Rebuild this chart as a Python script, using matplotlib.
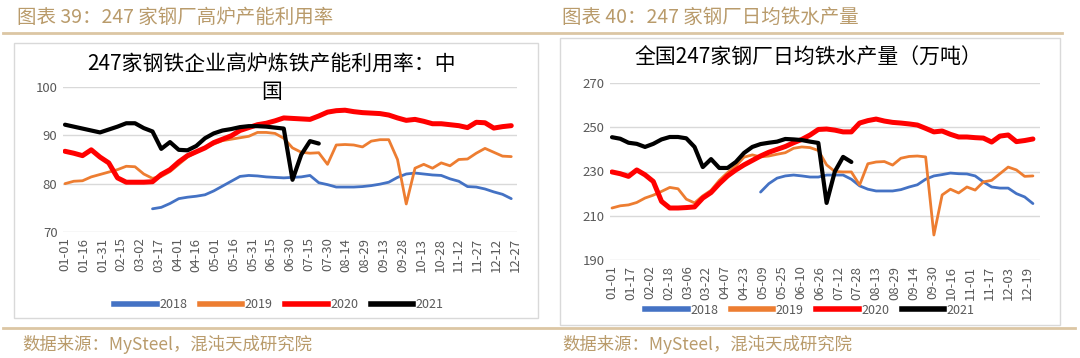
import matplotlib
matplotlib.use('Agg')
import numpy as np
import matplotlib.pyplot as plt
from matplotlib.patches import Rectangle
from matplotlib.lines import Line2D

plt.rcParams['font.family'] = ['Noto Sans CJK SC', 'DejaVu Sans']

# ---- data (weekly readings, week index k -> day 7k of the year) ----
years = ['2018', '2019', '2020', '2021']
colors = ['#4472C4', '#ED7D31', '#FF0000', '#000000']
widths = [2.0, 2.0, 3.6, 3.0]

# chart 39: blast furnace capacity utilisation (%)
util_start = [10, 0, 0, 0]
util_2018 = [74.8, 75.1, 75.9, 76.9, 77.2, 77.4, 77.7, 78.5, 79.5, 80.5,
             81.5, 81.7, 81.6, 81.4, 81.3, 81.2, 81.3, 81.4, 81.7, 80.2,
             79.8, 79.3, 79.3, 79.3, 79.4, 79.6, 79.9, 80.3, 81.3, 82.0,
             82.2, 82.0, 81.8, 81.7, 81.0, 80.5, 79.4, 79.3, 78.9, 78.3,
             77.8, 76.9]
util_2019 = [80.0, 80.5, 80.6, 81.4, 81.9, 82.4, 82.9, 83.6, 83.5, 82.0,
             81.1, 81.5, 82.5, 84.0, 85.5, 86.5, 87.5, 88.2, 88.9, 89.2,
             89.5, 89.8, 90.6, 90.6, 90.4, 89.4, 87.4, 86.5, 86.3, 86.4,
             84.0, 88.0, 88.1, 88.0, 87.6, 88.8, 89.1, 89.1, 85.0, 75.8,
             83.2, 84.0, 83.2, 84.3, 83.7, 85.0, 85.1, 86.3, 87.3, 86.5,
             85.7, 85.6]
util_2020 = [86.7, 86.3, 85.8, 87.0, 85.5, 84.3, 81.2, 80.3, 80.3, 80.3,
             80.4, 81.9, 82.9, 84.5, 85.8, 86.6, 87.4, 88.5, 89.2, 89.9,
             91.0, 91.6, 92.2, 92.5, 93.0, 93.6, 93.5, 93.4, 93.3, 94.0,
             94.8, 95.1, 95.2, 94.9, 94.7, 94.6, 94.5, 94.2, 93.6, 93.1,
             93.3, 92.9, 92.4, 92.4, 92.2, 92.0, 91.6, 92.7, 92.6, 91.5,
             91.8, 92.0]
util_2021 = [92.2, 91.8, 91.4, 91.0, 90.6, 91.2, 91.8, 92.5, 92.5, 91.5,
             90.8, 87.2, 88.6, 87.0, 86.9, 87.8, 89.4, 90.4, 91.0, 91.3,
             91.7, 91.9, 91.9, 91.8, 91.6, 91.4, 80.8, 86.0, 88.8, 88.3]
util_ticks = ['01-01', '01-16', '01-31', '02-15', '03-02', '03-17', '04-01',
              '04-16', '05-01', '05-16', '05-31', '06-15', '06-30', '07-15',
              '07-30', '08-14', '08-29', '09-13', '09-28', '10-13', '10-28',
              '11-12', '11-27', '12-12', '12-27']

# chart 40: daily hot metal output (10k tonnes)
iron_start = [18, 0, 0, 0]
iron_2018 = [220.7, 224.5, 227.0, 228.0, 228.4, 228.0, 227.5, 227.5, 228.4, 228.4,
             228.4, 226.5, 223.5, 222.0, 221.2, 221.2, 221.2, 221.8, 223.0, 224.0,
             226.5, 228.0, 228.6, 229.3, 229.0, 228.9, 228.0, 225.3, 223.0, 222.5,
             222.5, 220.0, 218.5, 215.5]
iron_2019 = [213.5, 214.5, 214.9, 216.0, 218.0, 219.3, 221.0, 222.8, 222.2, 217.5,
             215.8, 219.0, 221.5, 226.0, 229.5, 232.5, 236.5, 237.5, 236.6, 237.0,
             237.8, 238.5, 240.5, 241.1, 240.8, 239.5, 233.0, 230.0, 229.8, 229.8,
             223.9, 233.5, 234.3, 234.5, 232.9, 236.0, 236.8, 237.0, 236.6, 201.3,
             219.4, 222.0, 220.3, 223.0, 221.6, 225.3, 226.0, 229.0, 232.0, 230.7,
             227.8, 228.0]
iron_2020 = [229.8, 229.0, 227.8, 230.7, 228.5, 225.5, 216.5, 213.5, 213.5, 213.7,
             214.0, 218.0, 220.5, 224.5, 228.0, 230.7, 233.0, 235.0, 237.0, 238.7,
             240.0, 241.3, 243.0, 244.5, 246.5, 249.0, 249.2, 248.7, 247.9, 247.9,
             251.9, 253.0, 253.7, 252.8, 252.2, 251.9, 251.5, 251.0, 249.5, 247.9,
             248.3, 246.8, 245.6, 245.6, 245.3, 245.1, 243.3, 246.0, 246.5, 243.5,
             244.0, 244.7]
iron_2021 = [245.5, 244.8, 243.0, 242.5, 241.1, 242.5, 244.5, 245.6, 245.6, 245.0,
             241.1, 232.0, 235.6, 231.6, 231.6, 234.3, 238.4, 241.1, 242.4, 243.0,
             243.5, 244.7, 244.5, 244.2, 243.5, 242.9, 215.8, 230.0, 236.6, 234.3]
iron_ticks = ['01-01', '01-17', '02-02', '02-18', '03-06', '03-22', '04-07',
              '04-23', '05-09', '05-25', '06-10', '06-26', '07-12', '07-28',
              '08-13', '08-29', '09-14', '09-30', '10-16', '11-01', '11-17',
              '12-03', '12-19']

W, H = 1080, 358
fig = plt.figure(figsize=(W / 100, H / 100), dpi=100)
tan = '#b99b6b'


def fx(x):
    return x / W


def fy(y):
    return 1 - y / H


def ax_at(x0, y0, x1, y1):
    return fig.add_axes([fx(x0), fy(y1), fx(x1) - fx(x0), fy(y0) - fy(y1)])


def draw_chart(ax, series, starts, ticks, step, xlim, ylim, yticks):
    for vals, st, c, lw in zip(series, starts, colors, widths):
        x = 7 * (st + np.arange(len(vals)))
        ax.plot(x, vals, color=c, lw=lw, solid_joinstyle='round',
                solid_capstyle='round')
    ax.set_xlim(*xlim)
    ax.set_ylim(*ylim)
    ax.set_yticks(yticks)
    ax.set_xticks(np.arange(len(ticks)) * step)
    ax.set_xticklabels(ticks, rotation=90)
    ax.tick_params(length=0, labelsize=9.5, colors='#595959', pad=4)
    ax.grid(axis='y', color='#d9d9d9', lw=1)
    ax.set_axisbelow(True)
    for s in ax.spines.values():
        s.set_visible(False)
    ax.patch.set_alpha(0)


# frames
fig.patches.append(Rectangle((fx(14), fy(318)), fx(538) - fx(14), fy(43) - fy(318),
                             transform=fig.transFigure, fill=False,
                             ec='#d9d9d9', lw=1))
fig.patches.append(Rectangle((fx(560), fy(325)), fx(1060) - fx(560), fy(38) - fy(325),
                             transform=fig.transFigure, fill=False,
                             ec='#d9d9d9', lw=1))

# headers and rules
fig.add_artist(Line2D([fx(3), fx(1062)], [fy(33), fy(33)], color='#dcc6a4', lw=2))
fig.add_artist(Line2D([fx(3), fx(1075)], [fy(328), fy(328)], color='#dcc6a4', lw=2))
fig.text(fx(17), fy(17), '图表 39：247 家钢厂高炉产能利用率', fontsize=14,
         color=tan, va='center', ha='left')
fig.text(fx(562), fy(17), '图表 40：247 家钢厂日均铁水产量', fontsize=14,
         color=tan, va='center', ha='left')
fig.text(fx(22), fy(344), '数据来源：MySteel，混沌天成研究院', fontsize=12.5,
         color=tan, va='center', ha='left')
fig.text(fx(562), fy(344), '数据来源：MySteel，混沌天成研究院', fontsize=12.5,
         color=tan, va='center', ha='left')

# left chart
ax1 = ax_at(63, 87, 517, 232)
draw_chart(ax1, [util_2018, util_2019, util_2020, util_2021], util_start,
           util_ticks, 15, (-1.6, 361.6), (70, 100), [70, 80, 90, 100])
fig.text(fx(272), fy(78), '247家钢铁企业高炉炼铁产能利用率：中\n国', fontsize=15,
         ha='center', va='center', multialignment='center', linespacing=1.3)

# right chart
ax2 = ax_at(610, 83, 1040, 260)
draw_chart(ax2, [iron_2018, iron_2019, iron_2020, iron_2021], iron_start,
           iron_ticks, 16, (-1.7, 363), (190, 270), [190, 210, 230, 250, 270])
fig.text(fx(808), fy(58), '全国247家钢厂日均铁水产量（万吨）', fontsize=15,
         ha='center', va='center')

# legends
for cx, cy in [(279, 305), (810, 310)]:
    handles = [Line2D([], [], color=c, lw=4) for c in colors]
    fig.legend(handles, years, loc='center', bbox_to_anchor=(fx(cx), fy(cy)),
               ncol=4, frameon=False, fontsize=9, handlelength=3.4,
               handletextpad=0.2, columnspacing=1.0, labelcolor='#595959',
               borderpad=0, borderaxespad=0)

fig.savefig('out.png', dpi=100)
